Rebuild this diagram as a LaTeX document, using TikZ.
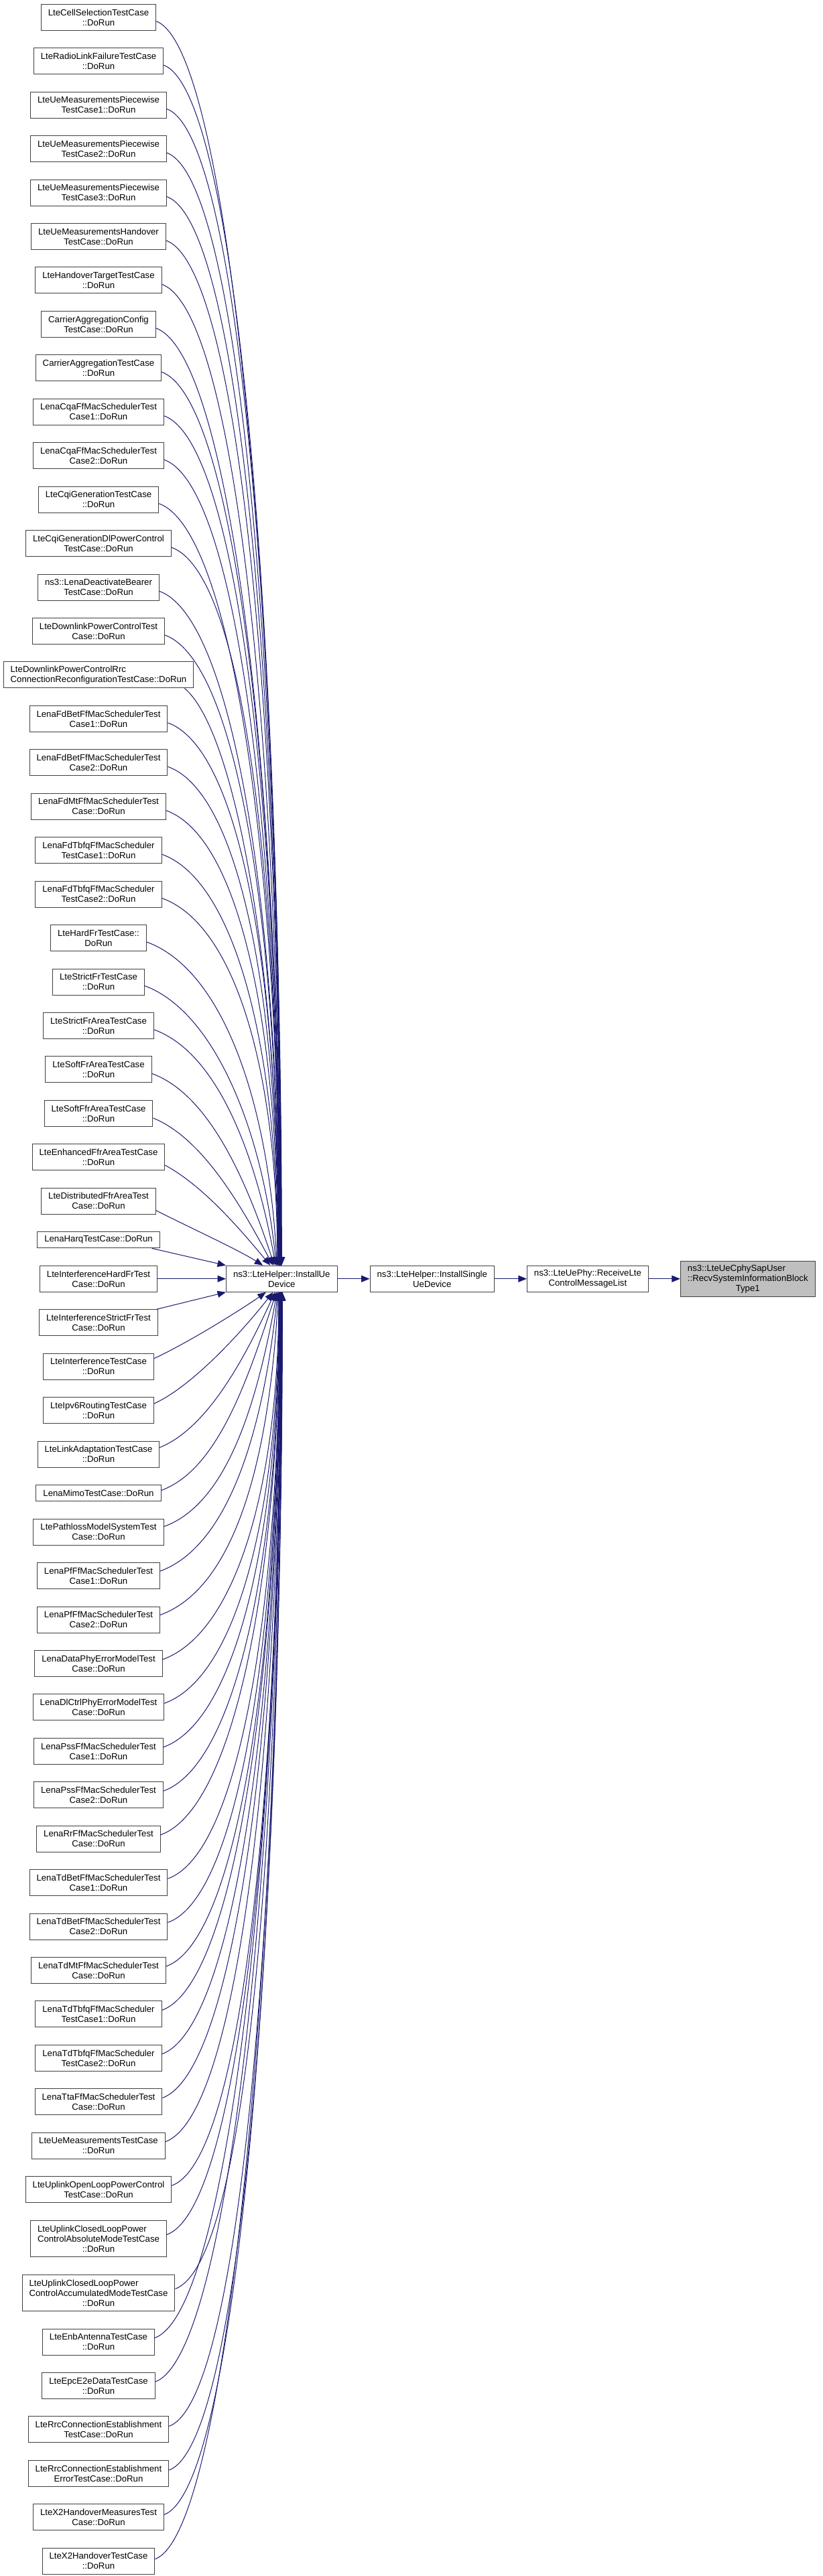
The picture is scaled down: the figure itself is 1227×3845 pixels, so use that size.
\documentclass[tikz,border=0pt]{standalone}
\usepackage{fontspec}
\setmainfont{Liberation Sans}
\usetikzlibrary{positioning,arrows.meta}
\definecolor{midnightblue}{HTML}{191970}
\definecolor{boxgray}{HTML}{404040}
\definecolor{rootgray}{HTML}{BFBFBF}
\tikzstyle{caller}=[
        draw = boxgray,
        fill = white,
        line width = 0.5pt,
        inner xsep = 5.25pt,
        inner ysep = 0pt,
        minimum height = 19.5pt,
        align = center,
        font = \fontsize{6.6}{7.5}\selectfont
    ]
\tikzstyle{short box}=[minimum height = 12.1pt]
\tikzstyle{tall box}=[minimum height = 27.25pt, align = left]
\tikzstyle{root}=[
    caller,
    fill = rootgray,
    minimum height = 26.65pt,
    align = left
]
\tikzstyle{call}=[
    midnightblue,
    line width = 0.5pt,
    -{Triangle[length=6.25pt,width=5pt]}
]

\begin{document}
\begin{tikzpicture}[node distance={12.72pt}, x=0.5pt, y=0.5pt]
        \useasboundingbox (0,0) rectangle (1227,-3845);

        \node[caller] (1) at (147,-25.8) {LteCellSelectionTestCase\\::DoRun};
        \node[caller] (2) [below = of 1] {LteRadioLinkFailureTestCase\\::DoRun};
        \node[caller] (3) [below = of 2] {LteUeMeasurementsPiecewise\\TestCase1::DoRun};
        \node[caller] (4) [below = of 3] {LteUeMeasurementsPiecewise\\TestCase2::DoRun};
        \node[caller] (5) [below = of 4] {LteUeMeasurementsPiecewise\\TestCase3::DoRun};
        \node[caller] (6) [below = of 5] {LteUeMeasurementsHandover\\TestCase::DoRun};
        \node[caller] (7) [below = of 6] {LteHandoverTargetTestCase\\::DoRun};
        \node[caller] (8) [below = of 7] {CarrierAggregationConfig\\TestCase::DoRun};
        \node[caller] (9) [below = of 8] {CarrierAggregationTestCase\\::DoRun};
        \node[caller] (10) [below = of 9] {LenaCqaFfMacSchedulerTest\\Case1::DoRun};
        \node[caller] (11) [below = of 10] {LenaCqaFfMacSchedulerTest\\Case2::DoRun};
        \node[caller] (12) [below = of 11] {LteCqiGenerationTestCase\\::DoRun};
        \node[caller] (13) [below = of 12] {LteCqiGenerationDlPowerControl\\TestCase::DoRun};
        \node[caller] (14) [below = of 13] {ns3::LenaDeactivateBearer\\TestCase::DoRun};
        \node[caller] (15) [below = of 14] {LteDownlinkPowerControlTest\\Case::DoRun};
        \node[caller, align = left] (16) [below = of 15] {LteDownlinkPowerControlRrc\\ConnectionReconfigurationTestCase::DoRun};
        \node[caller] (17) [below = of 16] {LenaFdBetFfMacSchedulerTest\\Case1::DoRun};
        \node[caller] (18) [below = of 17] {LenaFdBetFfMacSchedulerTest\\Case2::DoRun};
        \node[caller] (19) [below = of 18] {LenaFdMtFfMacSchedulerTest\\Case::DoRun};
        \node[caller] (20) [below = of 19] {LenaFdTbfqFfMacScheduler\\TestCase1::DoRun};
        \node[caller] (21) [below = of 20] {LenaFdTbfqFfMacScheduler\\TestCase2::DoRun};
        \node[caller] (22) [below = of 21] {LteHardFrTestCase::\\DoRun};
        \node[caller] (23) [below = of 22] {LteStrictFrTestCase\\::DoRun};
        \node[caller] (24) [below = of 23] {LteStrictFrAreaTestCase\\::DoRun};
        \node[caller] (25) [below = of 24] {LteSoftFrAreaTestCase\\::DoRun};
        \node[caller] (26) [below = of 25] {LteSoftFfrAreaTestCase\\::DoRun};
        \node[caller] (27) [below = of 26] {LteEnhancedFfrAreaTestCase\\::DoRun};
        \node[caller] (28) [below = of 27] {LteDistributedFfrAreaTest\\Case::DoRun};
        \node[caller, short box] (29) [below = of 28] {LenaHarqTestCase::DoRun};
        \node[caller] (30) [below = of 29] {LteInterferenceHardFrTest\\Case::DoRun};
        \node[caller] (31) [below = of 30] {LteInterferenceStrictFrTest\\Case::DoRun};
        \node[caller] (32) [below = of 31] {LteInterferenceTestCase\\::DoRun};
        \node[caller] (33) [below = of 32] {LteIpv6RoutingTestCase\\::DoRun};
        \node[caller] (34) [below = of 33] {LteLinkAdaptationTestCase\\::DoRun};
        \node[caller, short box] (35) [below = of 34] {LenaMimoTestCase::DoRun};
        \node[caller] (36) [below = of 35] {LtePathlossModelSystemTest\\Case::DoRun};
        \node[caller] (37) [below = of 36] {LenaPfFfMacSchedulerTest\\Case1::DoRun};
        \node[caller] (38) [below = of 37] {LenaPfFfMacSchedulerTest\\Case2::DoRun};
        \node[caller] (39) [below = of 38] {LenaDataPhyErrorModelTest\\Case::DoRun};
        \node[caller] (40) [below = of 39] {LenaDlCtrlPhyErrorModelTest\\Case::DoRun};
        \node[caller] (41) [below = of 40] {LenaPssFfMacSchedulerTest\\Case1::DoRun};
        \node[caller] (42) [below = of 41] {LenaPssFfMacSchedulerTest\\Case2::DoRun};
        \node[caller] (43) [below = of 42] {LenaRrFfMacSchedulerTest\\Case::DoRun};
        \node[caller] (44) [below = of 43] {LenaTdBetFfMacSchedulerTest\\Case1::DoRun};
        \node[caller] (45) [below = of 44] {LenaTdBetFfMacSchedulerTest\\Case2::DoRun};
        \node[caller] (46) [below = of 45] {LenaTdMtFfMacSchedulerTest\\Case::DoRun};
        \node[caller] (47) [below = of 46] {LenaTdTbfqFfMacScheduler\\TestCase1::DoRun};
        \node[caller] (48) [below = of 47] {LenaTdTbfqFfMacScheduler\\TestCase2::DoRun};
        \node[caller] (49) [below = of 48] {LenaTtaFfMacSchedulerTest\\Case::DoRun};
        \node[caller] (50) [below = of 49] {LteUeMeasurementsTestCase\\::DoRun};
        \node[caller] (51) [below = of 50] {LteUplinkOpenLoopPowerControl\\TestCase::DoRun};
        \node[caller, tall box] (52) [below = of 51] {LteUplinkClosedLoopPower\\ControlAbsoluteModeTestCase\\\hfill::DoRun\hfill\null};
        \node[caller, tall box] (53) [below = of 52] {LteUplinkClosedLoopPower\\ControlAccumulatedModeTestCase\\\hfill::DoRun\hfill\null};
        \node[caller] (54) [below = of 53] {LteEnbAntennaTestCase\\::DoRun};
        \node[caller] (55) [below = of 54] {LteEpcE2eDataTestCase\\::DoRun};
        \node[caller] (56) [below = of 55] {LteRrcConnectionEstablishment\\TestCase::DoRun};
        \node[caller] (57) [below = of 56] {LteRrcConnectionEstablishment\\ErrorTestCase::DoRun};
        \node[caller] (58) [below = of 57] {LteX2HandoverMeasuresTest\\Case::DoRun};
        \node[caller] (59) [below = of 58] {LteX2HandoverTestCase\\::DoRun};

        \node[caller] (installue) [right = 51pt of 30] {ns3::LteHelper::InstallUe\\Device};
        \node[caller] (installsingle) [right = 24pt of installue] {ns3::LteHelper::InstallSingle\\UeDevice};
        \node[caller] (receive) [right = 24pt of installsingle] {ns3::LteUePhy::ReceiveLte\\ControlMessageList};
        \node[root] (recv) [right = 23.5pt of receive] {ns3::LteUeCphySapUser\\::RecvSystemInformationBlock\\\hfill Type1\hfill\null};

        % callers above InstallUeDevice
        \draw[call] ([yshift=-3pt]1.east) .. controls +(113,-41) and +(0,930) .. (installue.north);
        \draw[call] ([yshift=-3pt]2.east) .. controls +(113,-41) and +(0,898) .. ([xshift=-0.25pt]installue.north);
        \draw[call] ([yshift=-3pt]3.east) .. controls +(113,-41) and +(0,865) .. ([xshift=-0.5pt]installue.north);
        \draw[call] ([yshift=-3pt]4.east) .. controls +(113,-41) and +(0,833) .. ([xshift=-0.5pt]installue.north);
        \draw[call] ([yshift=-3pt]5.east) .. controls +(113,-41) and +(0,800) .. ([xshift=-0.75pt]installue.north);
        \draw[call] ([yshift=-3pt]6.east) .. controls +(113,-41) and +(0,767) .. ([xshift=-0.75pt]installue.north);
        \draw[call] ([yshift=-3pt]7.east) .. controls +(113,-41) and +(0,735) .. ([xshift=-1pt]installue.north);
        \draw[call] ([yshift=-3pt]8.east) .. controls +(113,-41) and +(0,702) .. ([xshift=-1pt]installue.north);
        \draw[call] ([yshift=-3pt]9.east) .. controls +(113,-41) and +(0,670) .. ([xshift=-1.25pt]installue.north);
        \draw[call] ([yshift=-3pt]10.east) .. controls +(113,-41) and +(0,637) .. ([xshift=-1.25pt]installue.north);
        \draw[call] ([yshift=-3pt]11.east) .. controls +(113,-41) and +(0,604) .. ([xshift=-1.5pt]installue.north);
        \draw[call] ([yshift=-3pt]12.east) .. controls +(113,-41) and +(0,571) .. ([xshift=-1.5pt]installue.north);
        \draw[call] ([yshift=-3pt]13.east) .. controls +(113,-41) and +(0,539) .. ([xshift=-1.75pt]installue.north);
        \draw[call] ([yshift=-3pt]14.east) .. controls +(113,-41) and +(0,506) .. ([xshift=-1.75pt]installue.north);
        \draw[call] ([yshift=-3pt]15.east) .. controls +(113,-41) and +(0,473) .. ([xshift=-2pt]installue.north);
        \draw[call] ([xshift=-7pt]16.south east) .. controls +(77,-64) and +(0,430) .. ([xshift=-2pt]installue.north);
        \draw[call] ([yshift=-3pt]17.east) .. controls +(113,-41) and +(0,408) .. ([xshift=-2.25pt]installue.north);
        \draw[call] ([yshift=-3pt]18.east) .. controls +(113,-41) and +(0,375) .. ([xshift=-2.5pt]installue.north);
        \draw[call] ([yshift=-3pt]19.east) .. controls +(113,-41) and +(0,343) .. ([xshift=-2.75pt]installue.north);
        \draw[call] ([yshift=-3pt]20.east) .. controls +(113,-41) and +(0,310) .. ([xshift=-3pt]installue.north);
        \draw[call] ([yshift=-3pt]21.east) .. controls +(113,-41) and +(0,277) .. ([xshift=-3.25pt]installue.north);
        \draw[call] ([yshift=-3pt]22.east) .. controls +(113,-41) and +(-13,245) .. ([xshift=-3.5pt]installue.north);
        \draw[call] ([yshift=-3pt]23.east) .. controls +(103,-38) and +(-21,204) .. ([xshift=-4pt]installue.north);
        \draw[call] ([yshift=-3pt]24.east) .. controls +(94,-34) and +(-30,167) .. ([xshift=-4.5pt]installue.north);
        \draw[call] ([yshift=-3pt]25.east) .. controls +(85,-31) and +(-42,128) .. ([xshift=-5.5pt]installue.north);
        \draw[call] ([yshift=-3.5pt]26.east) .. controls +(74,-30) and +(-47,88) .. ([xshift=-6.5pt]installue.north);
        \draw[call] ([yshift=-6pt]27.east) .. controls +(57,-31) and +(-45,54) .. ([xshift=-8.5pt]installue.north);
        \draw[call] ([yshift=-7pt]28.east) .. controls +(49,-25) and +(-38,24) .. ([xshift=-14pt]installue.north);
        \draw[call] ([xshift=-6pt]29.south east) -- (installue.north west);
        \draw[call] (30.east) -- (installue.west);
        \draw[call] ([xshift=-1pt]31.north east) -- (installue.south west);

        % callers below InstallUeDevice
        \draw[call] ([yshift=6pt]32.east) .. controls +(50,23) and +(-37,-26) .. ([xshift=-11.75pt]installue.south);
        \draw[call] ([yshift=5pt]33.east) .. controls +(59,27) and +(-43,-55) .. ([xshift=-6.5pt]installue.south);
        \draw[call] ([yshift=5pt]34.east) .. controls +(74,30) and +(-42,-91) .. ([xshift=-5pt]installue.south);
        \draw[call] ([yshift=2pt]35.east) .. controls +(85,31) and +(-42,-128) .. ([xshift=-4pt]installue.south);
        \draw[call] ([yshift=4pt]36.east) .. controls +(94,34) and +(-30,-167) .. ([xshift=-3.5pt]installue.south);
        \draw[call] ([yshift=3.5pt]37.east) .. controls +(103,38) and +(-21,-204) .. ([xshift=-3pt]installue.south);
        \draw[call] ([yshift=3.5pt]38.east) .. controls +(113,41) and +(-13,-245) .. ([xshift=-2.5pt]installue.south);
        \draw[call] ([yshift=3pt]39.east) .. controls +(113,41) and +(0,-277) .. ([xshift=-2.25pt]installue.south);
        \draw[call] ([yshift=3pt]40.east) .. controls +(113,41) and +(0,-310) .. ([xshift=-2pt]installue.south);
        \draw[call] ([yshift=3pt]41.east) .. controls +(113,41) and +(0,-343) .. ([xshift=-1.75pt]installue.south);
        \draw[call] ([yshift=3pt]42.east) .. controls +(113,41) and +(0,-375) .. ([xshift=-1.5pt]installue.south);
        \draw[call] ([yshift=3pt]43.east) .. controls +(113,41) and +(0,-408) .. ([xshift=-1.5pt]installue.south);
        \draw[call] ([yshift=3pt]44.east) .. controls +(113,41) and +(0,-440) .. ([xshift=-1.25pt]installue.south);
        \draw[call] ([yshift=3pt]45.east) .. controls +(113,41) and +(0,-473) .. ([xshift=-1.25pt]installue.south);
        \draw[call] ([yshift=3pt]46.east) .. controls +(113,41) and +(0,-506) .. ([xshift=-1pt]installue.south);
        \draw[call] ([yshift=3pt]47.east) .. controls +(113,41) and +(0,-538) .. ([xshift=-1pt]installue.south);
        \draw[call] ([yshift=3pt]48.east) .. controls +(113,41) and +(0,-571) .. ([xshift=-0.75pt]installue.south);
        \draw[call] ([yshift=3pt]49.east) .. controls +(113,41) and +(0,-604) .. ([xshift=-0.75pt]installue.south);
        \draw[call] ([yshift=3pt]50.east) .. controls +(113,41) and +(0,-636) .. ([xshift=-0.5pt]installue.south);
        \draw[call] ([yshift=3pt]51.east) .. controls +(113,41) and +(0,-670) .. ([xshift=-0.5pt]installue.south);
        \draw[call] ([yshift=3pt]52.east) .. controls +(113,41) and +(0,-706) .. ([xshift=-0.25pt]installue.south);
        \draw[call] ([yshift=3pt]53.east) .. controls +(113,41) and +(0,-747) .. ([xshift=-0.25pt]installue.south);
        \draw[call] ([yshift=3pt]54.east) .. controls +(113,41) and +(0,-784) .. (installue.south);
        \draw[call] ([yshift=3pt]55.east) .. controls +(113,41) and +(0,-816) .. (installue.south);
        \draw[call] ([yshift=2.5pt]56.east) .. controls +(113,41) and +(0,-849) .. ([xshift=0.25pt]installue.south);
        \draw[call] ([yshift=2.5pt]57.east) .. controls +(113,41) and +(0,-882) .. ([xshift=0.25pt]installue.south);
        \draw[call] ([yshift=2pt]58.east) .. controls +(113,41) and +(0,-915) .. ([xshift=0.5pt]installue.south);
        \draw[call] ([yshift=1.5pt]59.east) .. controls +(113,41) and +(0,-948) .. ([xshift=0.5pt]installue.south);

        % call chain to the documented function
        \draw[call] (installue.east) -- (installsingle.west);
        \draw[call] (installsingle.east) -- (receive.west);
        \draw[call] (receive.east) -- (recv.west);

    \end{tikzpicture}
\end{document}
